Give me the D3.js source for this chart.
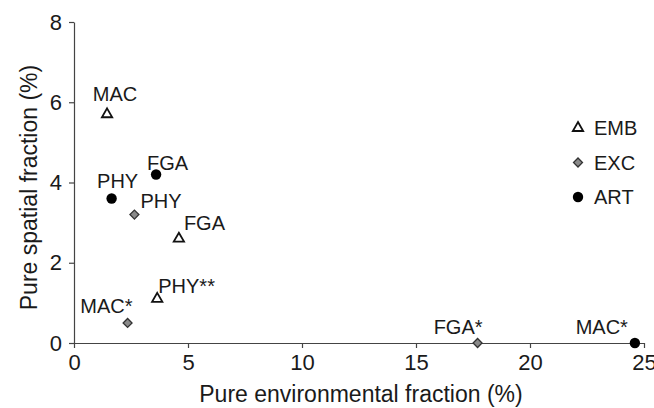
<!DOCTYPE html>
<html>
<head>
  <meta charset="UTF-8">
  <script src="https://d3js.org/d3.v7.min.js"></script>
  <style>
    body { margin: 0; background: #fff; }
    text { font-family: "Liberation Sans", Arial, sans-serif; fill: #1a1a1a; }
  </style>
</head>
<body>
<svg id="chart" width="654" height="408"></svg>
<script>
// data
var groups = ["EMB", "EXC", "ART"];
var labels  = ["MAC", "FGA", "PHY**", "PHY", "MAC*", "FGA*", "FGA", "PHY", "MAC*"];
var groupOf = ["EMB", "EMB", "EMB", "EXC", "EXC", "EXC", "ART", "ART", "ART"];
var envFrac = [1.45, 4.6, 3.65, 2.65, 2.35, 17.7, 3.6, 1.65, 24.6];
var spaFrac = [5.7, 2.6, 1.1, 3.2, 0.5, 0.0, 4.2, 3.6, 0.0];
var xTicks = [0, 5, 10, 15, 20, 25];
var yTicks = [0, 2, 4, 6, 8];

var margin = {top: 22, right: 10, bottom: 65, left: 74},
    width = 644 - margin.left,
    height = 343 - margin.top;

var svg = d3.select("#chart");
var g = svg.append("g").attr("transform", "translate(" + margin.left + "," + margin.top + ")");

var x = d3.scaleLinear().domain([0, 25]).range([0, width]);
var y = d3.scaleLinear().domain([0, 8]).range([height, 0]);

var xAxis = g.append("g").attr("transform", "translate(0," + height + ")")
  .call(d3.axisBottom(x).tickValues(xTicks).tickSize(5).tickSizeOuter(0).tickPadding(6));
var yAxis = g.append("g")
  .call(d3.axisLeft(y).tickValues(yTicks).tickSize(5).tickSizeOuter(0).tickPadding(7));

[xAxis, yAxis].forEach(function(a) {
  a.select(".domain").attr("stroke", "#444").attr("stroke-width", 1.2);
  a.selectAll(".tick line").attr("stroke", "#444").attr("stroke-width", 1.2);
  a.selectAll(".tick text").style("font-size", "22px").attr("fill", "#1a1a1a");
});

// axis titles
svg.append("text")
  .attr("x", margin.left + width / 2 + 2).attr("y", 402)
  .attr("text-anchor", "middle").style("font-size", "23px")
  .text("Pure environmental fraction (%)");
svg.append("text")
  .attr("transform", "translate(37," + (margin.top + height / 2 + 5) + ") rotate(-90)")
  .attr("text-anchor", "middle").style("font-size", "23px")
  .text("Pure spatial fraction (%)");

// marker shapes
function drawMarker(sel, grp) {
  if (grp === "EMB") {
    sel.append("path").attr("d", d3.symbol().type(d3.symbolTriangle).size(46))
      .attr("fill", "#fff").attr("stroke", "#111").attr("stroke-width", 1.8);
  } else if (grp === "EXC") {
    sel.append("path").attr("d", d3.symbol().type(d3.symbolSquare).size(40))
      .attr("transform", "rotate(45)")
      .attr("fill", "#8a8a8a").attr("stroke", "#333").attr("stroke-width", 1.3);
  } else {
    sel.append("circle").attr("r", 5.2).attr("fill", "#000");
  }
}

// label placement (anchor, dx, dy) per point
var labelPos = [
  ["middle", 8, -13], ["start", 5, -9], ["start", 1, -6],
  ["start", 6, -7], ["end", 5, -10], ["end", 5, -9],
  ["start", -9, -4], ["middle", 6, -11], ["end", -7, -9]
];

var pts = g.selectAll("g.pt").data(d3.range(labels.length)).enter().append("g")
  .attr("class", "pt")
  .attr("transform", function(i) { return "translate(" + x(envFrac[i]) + "," + y(spaFrac[i]) + ")"; });

pts.each(function(i) { drawMarker(d3.select(this), groupOf[i]); });
pts.append("text")
  .attr("text-anchor", function(i) { return labelPos[i][0]; })
  .attr("x", function(i) { return labelPos[i][1]; })
  .attr("y", function(i) { return labelPos[i][2]; })
  .style("font-size", "20px")
  .text(function(i) { return labels[i]; });

// legend
var legend = svg.selectAll("g.legend").data(groups).enter().append("g")
  .attr("class", "legend")
  .attr("transform", function(d, i) { return "translate(578," + (128 + i * 34.5) + ")"; });
legend.each(function(d) { drawMarker(d3.select(this), d); });
legend.append("text").attr("x", 16).attr("y", 7).style("font-size", "20px")
  .text(function(d) { return d; });
</script>
</body>
</html>
